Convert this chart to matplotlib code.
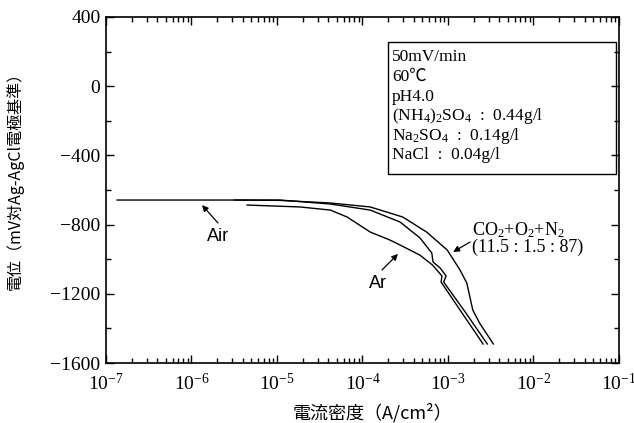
"""
Cathodic polarization curves of steel in simulated solution under Air / Ar / CO2+O2+N2
"""
import numpy as np
import matplotlib
matplotlib.use('Agg')
import matplotlib.pyplot as plt
from matplotlib.patches import Rectangle
from matplotlib.ticker import MultipleLocator, LogLocator, NullFormatter

plt.rcParams['mathtext.fontset'] = 'custom'
plt.rcParams['mathtext.rm'] = 'Liberation Serif'
plt.rcParams['mathtext.it'] = 'Liberation Serif:italic'
plt.rcParams['font.family'] = ['Liberation Serif', 'Noto Sans CJK JP']

''' ==== data ==== '''
# current density (A/cm2) and potential (mV vs Ag-AgCl)
i_air = [1.35e-7, 1.08e-5, 4.2e-5, 1.23e-4, 2.75e-4, 4.7e-4, 6.46e-4, 6.68e-4,
         8.1e-4, 9.5e-4, 8.9e-4, 1.62e-3, 2.88e-3]
e_air = [-658, -658, -681, -716, -785, -877, -964, -1016,
         -1051, -1097, -1132, -1311, -1490]

i_ar = [4.47e-6, 1.86e-5, 4.2e-5, 6.6e-5, 1.23e-4, 2.09e-4, 2.75e-4, 4.68e-4,
        6.6e-4, 8.5e-4, 8.3e-4, 2.57e-3]
e_ar = [-687, -698, -716, -756, -843, -889, -918, -976,
        -1034, -1097, -1132, -1490]

i_gas = [3.2e-6, 1.08e-5, 4.17e-5, 1.23e-4, 2.95e-4, 5.62e-4, 9.8e-4, 1.38e-3,
         1.66e-3, 1.95e-3, 2.34e-3, 3.39e-3]
e_gas = [-658, -660, -675, -698, -756, -843, -947, -1062,
         -1138, -1294, -1369, -1490]

cond_lines = ['50mV/min', '60℃', 'pH4.0',
              r'(NH$_4$)$_2$SO$_4$  :  0.44g/l',
              r'Na$_2$SO$_4$  :  0.14g/l',
              'NaCl  :  0.04g/l']

''' ==== plot ==== '''
fig = plt.figure(figsize=(6.34, 4.23), dpi=100)
ax = fig.add_axes([106/634, 1-363/423, 513/634, 346/423])

lw = 1.0
ax.plot(i_air, e_air, color='k', lw=lw)
ax.plot(i_ar, e_ar, color='k', lw=lw)
ax.plot(i_gas, e_gas, color='k', lw=lw)

ax.set_xscale('log')
ax.set_xlim(1e-7, 1e-1)
ax.set_ylim(-1600, 400)
ax.yaxis.set_major_locator(MultipleLocator(400))
ax.yaxis.set_minor_locator(MultipleLocator(200))
ax.xaxis.set_major_locator(LogLocator(base=10, numticks=10))
ax.xaxis.set_minor_locator(LogLocator(base=10, subs=np.arange(2, 10), numticks=20))
ax.xaxis.set_minor_formatter(NullFormatter())

for axis in ['top', 'bottom', 'left', 'right']:
    ax.spines[axis].set_linewidth(1.2)
ax.tick_params(which='both', direction='in', top=True, right=True, width=1.0)
ax.tick_params(which='major', length=6, labelsize=14)
ax.tick_params(which='minor', length=3.5)
ax.tick_params(axis='y', pad=4)
ax.tick_params(axis='x', pad=7)

ax.set_xlabel('電流密度（A/cm²）', family=['Noto Sans CJK JP', 'DejaVu Sans'], fontsize=13)
ax.set_ylabel('電位（mV対Ag-AgCl電極基準）', family=['Noto Sans CJK JP', 'DejaVu Sans'], fontsize=11.5)
ax.xaxis.set_label_coords(0.52, -0.115)
ax.yaxis.set_label_coords(-0.16, 0.538)

# condition box
ax.add_patch(Rectangle((388/634, 1-174/423), 228/634, 132/423, transform=fig.transFigure,
                       fill=False, ec='k', lw=1.0, zorder=5))
line_y = [57, 77, 97, 116, 136, 155]
for txt, yy in zip(cond_lines, line_y):
    fig.text(392/634, 1-yy/423, txt, fontsize=12.5, va='center', ha='left')

# curve labels
arrow = dict(arrowstyle='-|>', color='k', lw=0.9, mutation_scale=9, shrinkA=0, shrinkB=0)
ax.annotate('', xy=(10**-5.877, -687), xytext=(10**-5.69, -791), arrowprops=arrow)
ax.text(10**-5.69, -866, 'Air', family='Liberation Sans', fontsize=13, ha='center', va='center')

ax.annotate('', xy=(10**-3.585, -970), xytext=(10**-3.772, -1062), arrowprops=arrow)
ax.text(10**-3.82, -1143, 'Ar', family='Liberation Sans', fontsize=13, ha='center', va='center')

ax.annotate('', xy=(10**-2.94, -958), xytext=(10**-2.743, -901), arrowprops=arrow)
ax.text(10**-2.72, -831, r'CO$_2$+O$_2$+N$_2$', fontsize=13, ha='left', va='center')
ax.text(10**-2.72, -929, '(11.5 : 1.5 : 87)', fontsize=13, ha='left', va='center')

plt.savefig('out.png', dpi=100)
plt.close()
